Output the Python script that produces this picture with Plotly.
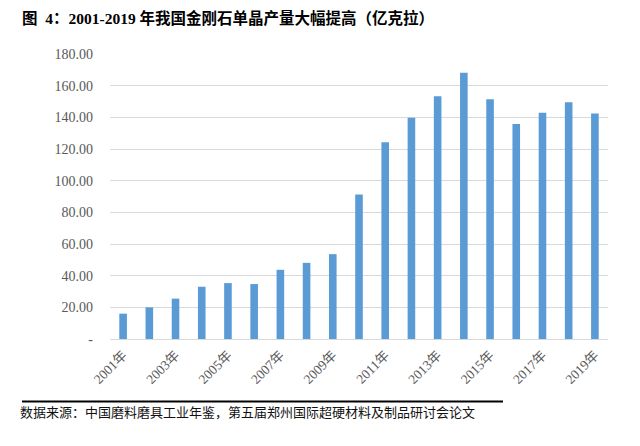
import plotly.graph_objects as go

years = [f"{y}年" for y in range(2001, 2020)]
production = [16.0, 20.0, 25.5, 33.0, 35.3, 34.7, 43.7, 48.1, 53.6, 91.3,
              124.3, 139.8, 153.3, 168.2, 151.5, 135.8, 142.9, 149.6, 142.4]
x_tick_labels = [f"{y}年" for y in range(2001, 2020, 2)]
y_tick_vals = [0, 20, 40, 60, 80, 100, 120, 140, 160, 180]
y_tick_text = ["-", "20.00", "40.00", "60.00", "80.00", "100.00",
               "120.00", "140.00", "160.00", "180.00"]

title_text = "图  4：2001-2019 年我国金刚石单晶产量大幅提高（亿克拉）"
source_text = "数据来源：中国磨料磨具工业年鉴，第五届郑州国际超硬材料及制品研讨会论文"

# page has an 8px body margin; compensate so the plot lands where the reference is
OFF = 8
W, H = 640 - OFF, 446 - OFF
L, R, T, B = 110 - OFF, 32, 54 - OFF, 106.5
pw = W - L - R
ph = H - T - B


def px_to_x(p):
    return (p - OFF - L) / pw


def px_to_y(p):
    return (H - B - (p - OFF)) / ph


fig = go.Figure(go.Bar(
    x=years, y=production, marker=dict(color="#5B9BD5", line=dict(width=0)),
))

fig.update_layout(
    width=W, height=H,
    margin=dict(l=L, r=R, t=T, b=B, autoexpand=False),
    plot_bgcolor="white", paper_bgcolor="white",
    bargap=0.71,
    showlegend=False,
    font=dict(family="Liberation Serif, Noto Sans CJK SC", color="#595959"),
)
fig.update_xaxes(
    tickmode="array", tickvals=x_tick_labels, ticktext=x_tick_labels,
    tickangle=-45, tickfont=dict(size=13.5, color="#595959",
                                 family="Liberation Serif, Noto Sans CJK SC"),
    showgrid=False, showline=True, linecolor="#D9D9D9", linewidth=1,
    ticks="", zeroline=False, automargin=False, ticklabelstandoff=2,
)
fig.update_yaxes(
    range=[0, 180], tickmode="array", tickvals=y_tick_vals, ticktext=y_tick_text,
    tickfont=dict(size=14, color="#595959", family="Liberation Serif"),
    showgrid=True, gridcolor="#D9D9D9", gridwidth=1, zeroline=False,
    ticks="", ticklabelstandoff=16, automargin=False,
)

fig.add_annotation(
    text=f"<b>{title_text}</b>", xref="paper", yref="paper",
    x=px_to_x(20), y=px_to_y(18), xanchor="left", yanchor="middle",
    showarrow=False,
    font=dict(size=15.5, color="black", family="Liberation Serif, Noto Sans CJK SC"),
)
fig.add_shape(
    type="line", xref="paper", yref="paper",
    x0=px_to_x(22), x1=px_to_x(503), y0=px_to_y(402), y1=px_to_y(402),
    line=dict(color="black", width=2),
)
fig.add_annotation(
    text=source_text, xref="paper", yref="paper",
    x=px_to_x(18), y=px_to_y(412), xanchor="left", yanchor="middle",
    showarrow=False,
    font=dict(size=13, color="#111111", family="Noto Sans CJK SC"),
)

fig.write_html("out.html")
